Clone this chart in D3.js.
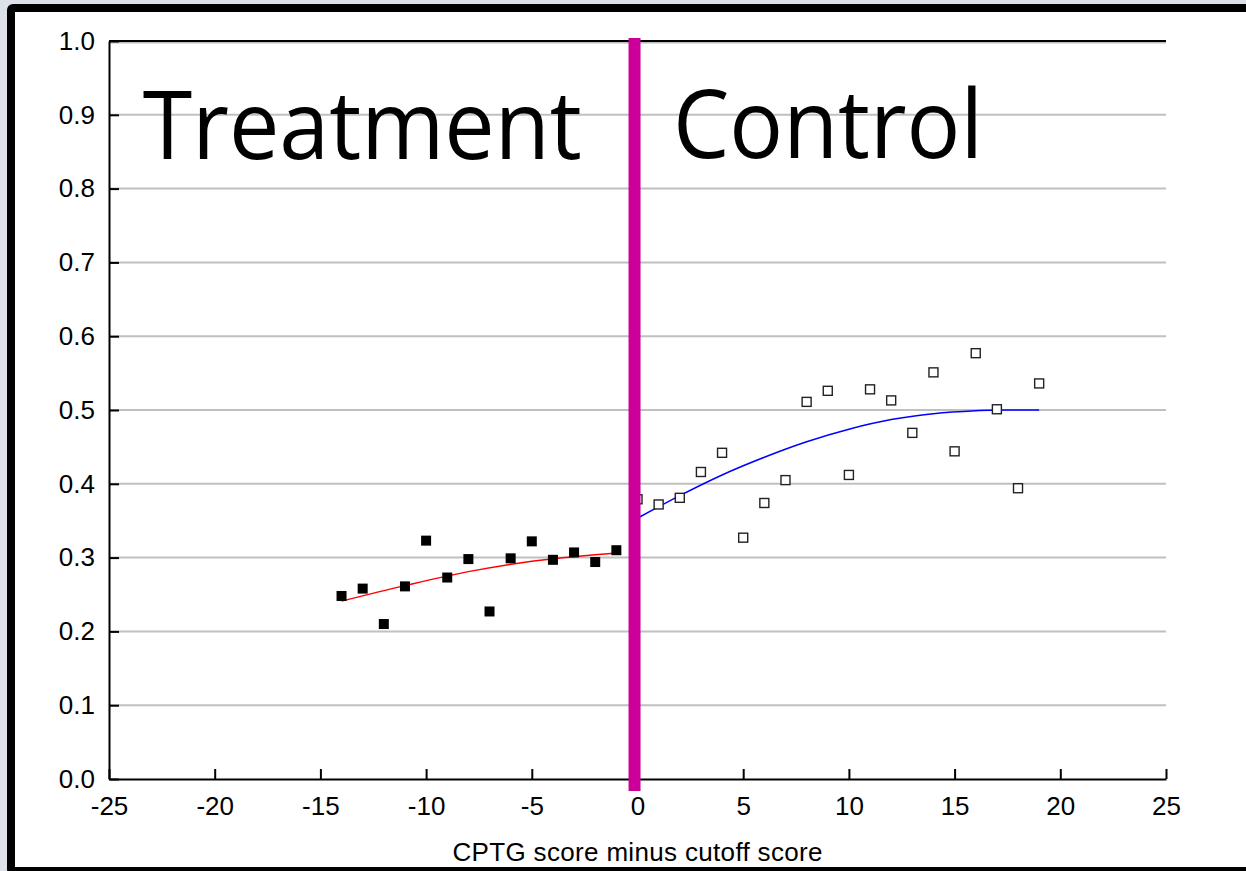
<!DOCTYPE html>
<html>
<head>
<meta charset="utf-8">
<script src="https://cdn.jsdelivr.net/npm/d3@7"></script>
<style>
  body { margin: 0; background: #dde1ea; }
  svg { display: block; }
</style>
</head>
<body>
<div id="chart"></div>
<script>
"use strict";

// values
var treatX = [-14, -13, -12, -11, -10, -9, -8, -7, -6, -5, -4, -3, -2, -1];
var treatY = [0.248, 0.258, 0.210, 0.261, 0.323, 0.273, 0.298, 0.227, 0.299, 0.322, 0.297, 0.307, 0.294, 0.310];

var controlX = [0, 1, 2, 3, 4, 5, 6, 7, 8, 9, 10, 11, 12, 13, 14, 15, 16, 17, 18, 19];
var controlY = [0.379, 0.372, 0.381, 0.416, 0.442, 0.327, 0.374, 0.405, 0.511, 0.526, 0.412, 0.528, 0.513, 0.469, 0.551, 0.444, 0.577, 0.501, 0.394, 0.536];

// fitted curves
var treatFitX = [-14, -11, -8, -5, -2, -1];
var treatFitY = [0.241, 0.262, 0.281, 0.295, 0.304, 0.306];
var controlFitX = [0.1, 2, 4, 6, 8, 10, 12, 14, 16, 17, 19];
var controlFitY = [0.355, 0.384, 0.412, 0.436, 0.457, 0.474, 0.487, 0.495, 0.499, 0.500, 0.500];

var cutoff = -0.14;
var xTicks = [-25, -20, -15, -10, -5, 0, 5, 10, 15, 20, 25];
var yTicks = [0, 0.1, 0.2, 0.3, 0.4, 0.5, 0.6, 0.7, 0.8, 0.9, 1.0];
var xTitle = "CPTG score minus cutoff score";
var labels = [{text: "Treatment", x: -23.4, y: 0.84, len: 439},
              {text: "Control", x: 1.68, y: 0.842, len: 310}];

var W = 1246, H = 871;
var margin = {left: 109, right: 1166, top: 41, bottom: 779};

var svg = d3.select("#chart").append("svg")
    .attr("width", W)
    .attr("height", H);

// frame: black border, white sheet
svg.append("rect")
    .attr("x", 7).attr("y", 4)
    .attr("width", W).attr("height", H)
    .attr("rx", 6)
    .attr("fill", "#000");
svg.append("rect")
    .attr("x", 15).attr("y", 12)
    .attr("width", W).attr("height", 855)
    .attr("fill", "#fff");

var x = d3.scaleLinear().domain([-25, 25]).range([margin.left, margin.right]);
var y = d3.scaleLinear().domain([0, 1]).range([margin.bottom, margin.top]);

// gridlines
svg.append("g")
  .selectAll("line")
  .data(yTicks.filter(function(d) { return d > 0 && d < 1; }))
  .enter().append("line")
    .attr("x1", x(-25)).attr("x2", x(25))
    .attr("y1", function(d) { return y(d); })
    .attr("y2", function(d) { return y(d); })
    .attr("stroke", "#c0c0c0")
    .attr("stroke-width", 2);

// top frame line
svg.append("line")
    .attr("x1", x(-25)).attr("x2", x(25))
    .attr("y1", y(1) + 1.5).attr("y2", y(1) + 1.5)
    .attr("stroke", "#bbb").attr("stroke-width", 2);
svg.append("line")
    .attr("x1", x(-25)).attr("x2", x(25))
    .attr("y1", y(1)).attr("y2", y(1))
    .attr("stroke", "#000").attr("stroke-width", 2);

// axes
var yAxis = svg.append("g")
    .attr("transform", "translate(" + margin.left + ",0)")
    .call(d3.axisLeft(y).tickValues(yTicks).tickFormat(d3.format(".1f"))
      .tickSizeInner(-10).tickSizeOuter(0).tickPadding(14));

var xAxis = svg.append("g")
    .attr("transform", "translate(0," + margin.bottom + ")")
    .call(d3.axisBottom(x).tickValues(xTicks).tickFormat(d3.format("d"))
      .tickSizeInner(-10).tickSizeOuter(0).tickPadding(18));

[yAxis, xAxis].forEach(function(a) {
  a.select(".domain").attr("stroke", "#000").attr("stroke-width", 2);
  a.selectAll(".tick line").attr("stroke", "#000").attr("stroke-width", 2);
  a.selectAll(".tick text")
    .style("font-family", "'Liberation Sans', Arial, sans-serif")
    .style("font-size", "26px")
    .attr("fill", "#000");
});
xAxis.selectAll(".tick text").text(function(d) { return d; });

// x title
svg.append("text")
    .attr("x", (margin.left + margin.right) / 2)
    .attr("y", 861)
    .attr("text-anchor", "middle")
    .style("font-family", "'Liberation Sans', Arial, sans-serif")
    .style("font-size", "26px")
    .attr("textLength", 370)
    .text(xTitle);

// fitted lines
var line = d3.line()
    .x(function(d) { return x(d[0]); })
    .y(function(d) { return y(d[1]); })
    .curve(d3.curveMonotoneX);

svg.append("path")
    .attr("d", line(d3.zip(treatFitX, treatFitY)))
    .attr("fill", "none")
    .attr("stroke", "#ff0000")
    .attr("stroke-width", 1.5);

svg.append("path")
    .attr("d", line(d3.zip(controlFitX, controlFitY)))
    .attr("fill", "none")
    .attr("stroke", "#0000ff")
    .attr("stroke-width", 1.5);

// treatment points (filled squares)
var s = 10;
svg.append("g")
  .selectAll("rect")
  .data(d3.zip(treatX, treatY))
  .enter().append("rect")
    .attr("x", function(d) { return x(d[0]) - s / 2; })
    .attr("y", function(d) { return y(d[1]) - s / 2; })
    .attr("width", s).attr("height", s)
    .attr("fill", "#000");

// control points (open squares)
svg.append("g")
  .selectAll("rect")
  .data(d3.zip(controlX, controlY))
  .enter().append("rect")
    .attr("x", function(d) { return x(d[0]) - s / 2 + 0.5; })
    .attr("y", function(d) { return y(d[1]) - s / 2 + 0.5; })
    .attr("width", s - 1).attr("height", s - 1)
    .attr("fill", "#fff")
    .attr("stroke", "#222")
    .attr("stroke-width", 1.4);

// cutoff bar
svg.append("line")
    .attr("x1", x(cutoff)).attr("x2", x(cutoff))
    .attr("y1", y(1) - 3).attr("y2", y(0) + 12)
    .attr("stroke", "#cc0099")
    .attr("stroke-width", 12);

// big labels
svg.append("g")
  .selectAll("text")
  .data(labels)
  .enter().append("text")
    .attr("x", function(d) { return x(d.x); })
    .attr("y", function(d) { return y(d.y); })
    .attr("textLength", function(d) { return d.len; })
    .attr("lengthAdjust", "spacingAndGlyphs")
    .style("font-family", "'Open Sans', 'Noto Sans', sans-serif")
    .style("font-size", "96px")
    .attr("fill", "#000")
    .text(function(d) { return d.text; });
</script>
</body>
</html>
